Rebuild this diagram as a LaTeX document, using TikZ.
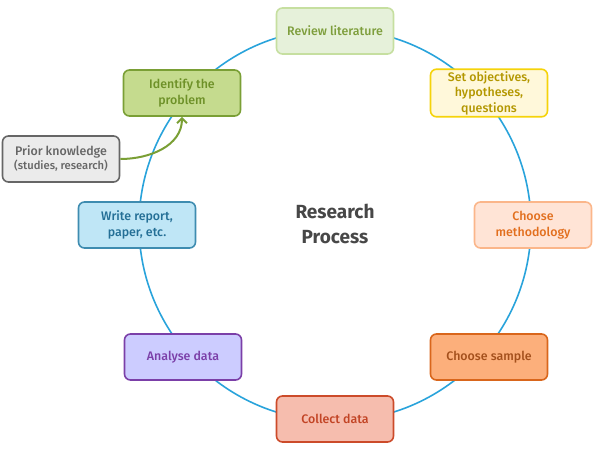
\documentclass[tikz,border=0pt]{standalone}
\usepackage{fontspec}
\setmainfont{Fira Sans}[UprightFont={* Medium}, BoldFont={* Bold}]
\usetikzlibrary{arrows.meta}

\definecolor{ringblue}{HTML}{29A3DB}
\definecolor{litfill}{HTML}{E6F1DA}\definecolor{litdraw}{HTML}{C6DFA0}\definecolor{littext}{HTML}{7E9E3C}
\definecolor{probfill}{HTML}{C5DB8E}\definecolor{probdraw}{HTML}{7A9F35}\definecolor{probtext}{HTML}{6E9128}
\definecolor{objfill}{HTML}{FFF8DA}\definecolor{objdraw}{HTML}{F5D30A}\definecolor{objtext}{HTML}{B39700}
\definecolor{methfill}{HTML}{FFE4D6}\definecolor{methdraw}{HTML}{FBB68A}\definecolor{methtext}{HTML}{E26F1E}
\definecolor{sampfill}{HTML}{FCAF7B}\definecolor{sampdraw}{HTML}{D9661B}\definecolor{samptext}{HTML}{A4501C}
\definecolor{collfill}{HTML}{F6BDAE}\definecolor{colldraw}{HTML}{CC4B2A}\definecolor{colltext}{HTML}{C24425}
\definecolor{anafill}{HTML}{CCCCFF}\definecolor{anadraw}{HTML}{7B3FA8}\definecolor{anatext}{HTML}{7B3FA8}
\definecolor{repfill}{HTML}{BFE6F6}\definecolor{repdraw}{HTML}{3E8CB0}\definecolor{reptext}{HTML}{246F96}
\definecolor{priorfill}{HTML}{EBEBEB}\definecolor{priordraw}{HTML}{666666}\definecolor{priortext}{HTML}{666666}

\begin{document}
\begin{tikzpicture}[
  x=1pt, y=-1pt,
  stage/.style={rectangle, rounded corners=6pt, line width=1.6pt, minimum width=117pt,
    minimum height=46pt, align=center, font=\fontsize{12.4}{14}\selectfont, inner sep=2pt},
  font=\fontsize{12.4}{14}\selectfont
]
\useasboundingbox (0,0) rectangle (600,450);

\draw[ringblue, line width=1.6pt] (335,225) circle (196);

\node[font=\bfseries\fontsize{19}{25}\selectfont, text=black!72, align=center] (title) at (335,224) {Research\\Process};

\node[stage, fill=litfill, draw=litdraw, text=littext] (review) at (335,31) {Review literature};
\node[stage, fill=objfill, draw=objdraw, text=objtext, font=\fontsize{12.4}{15.5}\selectfont] (objectives) at (489,93) {Set objectives,\\hypotheses,\\questions};
\node[stage, fill=methfill, draw=methdraw, text=methtext, font=\fontsize{12.4}{16}\selectfont] (method) at (533,225) {Choose\\methodology};
\node[stage, fill=sampfill, draw=sampdraw, text=samptext] (sample) at (489,357) {Choose sample};
\node[stage, fill=collfill, draw=colldraw, text=colltext] (collect) at (335,419) {Collect data};
\node[stage, fill=anafill, draw=anadraw, text=anatext] (analyse) at (183,357) {Analyse data};
\node[stage, fill=repfill, draw=repdraw, text=reptext, font=\fontsize{12.4}{16}\selectfont] (report) at (137,225) {Write report,\\paper, etc.};
\node[stage, fill=probfill, draw=probdraw, text=probtext, font=\fontsize{12.4}{16}\selectfont] (problem) at (182,93) {Identify the\\problem};
\node[stage, fill=priorfill, draw=priordraw, text=priortext, font=\fontsize{12.4}{14}\selectfont] (prior) at (61,159) {Prior knowledge\\{\fontsize{11.2}{14}\selectfont (studies, research)}};

\draw[probdraw, line width=2pt, -{Straight Barb[length=5pt, width=10pt]}] (prior.east) to[out=0, in=-90] (problem.south);
\end{tikzpicture}
\end{document}
